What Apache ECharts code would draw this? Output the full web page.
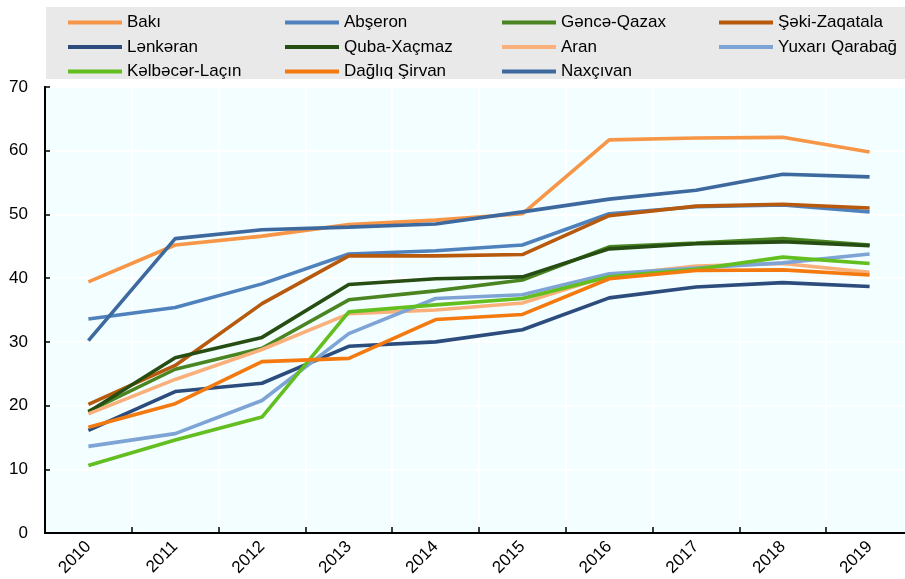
<!DOCTYPE html>
<html><head><meta charset="utf-8">
<script src="https://cdn.jsdelivr.net/npm/echarts@6/dist/echarts.min.js"></script>
<style>html,body{margin:0;padding:0;overflow:hidden;background:#fff}#c{width:913px;height:579px}</style>
</head><body><div id="c"></div>
<script>
const years = ['2010','2011','2012','2013','2014','2015','2016','2017','2018','2019'];
const baki = [39.4,45.2,46.6,48.4,49.1,50.1,61.7,62.0,62.1,59.8];
const abseron = [33.6,35.4,39.1,43.8,44.3,45.2,50.1,51.2,51.5,50.4];
const genceQazax = [19.1,25.7,29.0,36.6,38.0,39.7,44.9,45.5,46.2,45.2];
const sekiZaqatala = [20.2,26.3,36.0,43.5,43.5,43.7,49.8,51.3,51.6,51.0];
const lenkeran = [16.1,22.2,23.5,29.3,30.0,31.9,36.9,38.6,39.3,38.7];
const qubaXacmaz = [19.0,27.5,30.7,39.0,39.9,40.2,44.6,45.4,45.7,45.1];
const aran = [18.7,24.1,28.8,34.4,35.0,36.1,40.4,41.9,42.3,40.9];
const yuxariQarabag = [13.6,15.6,20.8,31.3,36.8,37.4,40.7,41.6,42.4,43.8];
const kelbecerLacin = [10.6,14.6,18.2,34.7,35.8,36.8,40.2,41.4,43.3,42.3];
const dagliqSirvan = [16.6,20.3,26.9,27.4,33.5,34.3,39.9,41.2,41.3,40.5];
const naxcivan = [30.2,46.2,47.6,48.0,48.5,50.4,52.4,53.8,56.3,55.9];
const yTicks = [0,10,20,30,40,50,60,70];

const seriesDefs = [
  ['Bakı', baki, '#F79646'],
  ['Abşeron', abseron, '#4F81BD'],
  ['Gəncə-Qazax', genceQazax, '#4A8522'],
  ['Şəki-Zaqatala', sekiZaqatala, '#B85A0E'],
  ['Lənkəran', lenkeran, '#2B4C7C'],
  ['Quba-Xaçmaz', qubaXacmaz, '#264D12'],
  ['Aran', aran, '#FAB07A'],
  ['Yuxarı Qarabağ', yuxariQarabag, '#7EA4D5'],
  ['Kəlbəcər-Laçın', kelbecerLacin, '#63BE1F'],
  ['Dağlıq Şirvan', dagliqSirvan, '#F47A10'],
  ['Naxçıvan', naxcivan, '#3D699E']
];
const FONT = '"Liberation Sans", Arial, sans-serif';
const cols = [
  ['Bakı','Lənkəran','Kəlbəcər-Laçın'],
  ['Abşeron','Quba-Xaçmaz','Dağlıq Şirvan'],
  ['Gəncə-Qazax','Aran','Naxçıvan'],
  ['Şəki-Zaqatala','Yuxarı Qarabağ']
];
const colX = [68, 285, 502, 719];
const legends = cols.map((d, i) => ({
  data: d, left: colX[i], top: 14, orient: 'vertical', padding: 0,
  icon: 'rect', itemWidth: 54, itemHeight: 4, itemGap: 7.5,
  textStyle: {fontFamily: FONT, fontSize: 17, color: '#000'},
  selectedMode: false
}));
const chart = echarts.init(document.getElementById('c'));
chart.setOption({
  animation: false,
  textStyle: {fontFamily: FONT},
  graphic: [{type: 'rect', shape: {x: 46, y: 7, width: 870, height: 72}, style: {fill: '#E9E9E9'}, z: -1}],
  legend: legends,
  grid: {left: 45, right: 0, top: 87, bottom: 46, backgroundColor: '#F2FEFF', show: true, borderWidth: 2, borderColor: '#000'},
  xAxis: {
    type: 'category', data: years, boundaryGap: true,
    axisLine: {lineStyle: {color: '#000', width: 2}},
    axisTick: {show: true, lineStyle: {color: '#000', width: 1.5}, length: 6, inside: true},
    axisLabel: {rotate: 45, fontSize: 17, color: '#000', fontFamily: FONT, margin: 11},
    splitLine: {show: true, lineStyle: {color: '#FFFFFF', width: 2}}
  },
  yAxis: {
    type: 'value', min: 0, max: 70, interval: 10,
    axisLine: {show: true, lineStyle: {color: '#000', width: 2}},
    axisTick: {show: true, inside: true, length: 5, lineStyle: {color: '#000', width: 1.5}},
    axisLabel: {fontSize: 17, color: '#000', fontFamily: FONT, margin: 17},
    splitLine: {show: true, lineStyle: {color: '#FFFFFF', width: 2}}
  },
  series: seriesDefs.map(([n, d, c]) => ({
    name: n, type: 'line', data: d, symbol: 'none', color: c,
    lineStyle: {width: 3.6, color: c}
  }))
});
</script></body></html>
